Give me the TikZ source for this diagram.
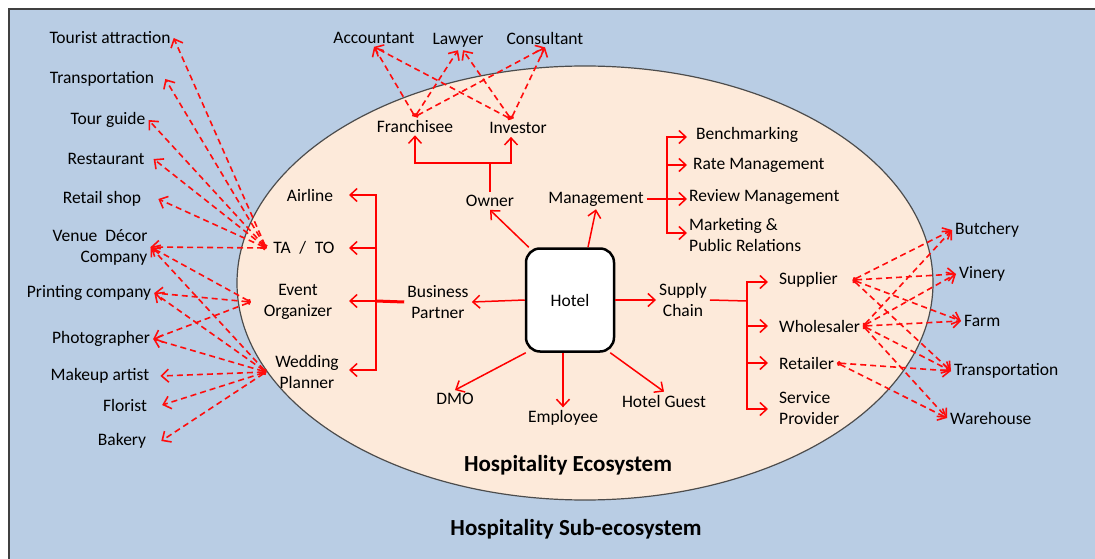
\documentclass[tikz,border=0pt]{standalone}
\usepackage{fontspec}
\setmainfont{Carlito}
\usepackage{tikz}
\usetikzlibrary{arrows.meta,calc,positioning}
\definecolor{subeco}{RGB}{185,205,228}
\definecolor{eco}{RGB}{253,234,218}
\tikzset{>={Straight Barb[length=7pt,width=13pt]},
	actor/.style={% plain text of the members of the ecosystem
		font=\fontsize{17.5}{21}\selectfont,
		inner sep=3pt,
		align=center
	},
	link/.style={->, red, line width=1.5pt},
	dashlink/.style={
		{Circle[length=4pt]}-{Straight Barb[length=7pt,width=13pt]},
		red!95!white, line width=1.6pt,
		dash pattern=on 6pt off 4pt
	}
}
\begin{document}
\begin{tikzpicture}[x=1pt,y=-1pt,
                    title/.style={font=\bfseries\fontsize{23}{26}\selectfont}]
                        \useasboundingbox (0,0) rectangle (1095,559);
                        \draw [fill=subeco, draw=black!75, line width=2pt] (9,9) rectangle (1110,570);
                        \draw [fill=eco, draw=black!70, line width=1.2pt] (585,283) ellipse [x radius=348, y radius=217];
                        % centre
                        \node [actor, draw, fill=white, line width=2.5pt, rounded corners=14pt,
                               minimum width=88pt, minimum height=103pt] (hotel) at (570,300) {Hotel};
                        \node [actor] (owner) at (490,201) {Owner};
                        \node [actor] (management) at (596,199) {Management};
                        \node [actor] (partner) at (438,302) {Business\\Partner};
                        \node [actor] (supply) at (683,300) {Supply\\Chain};
                        \node [actor] (dmo) at (455,399) {DMO};
                        \node [actor] (employee) at (563,418) {Employee};
                        \node [actor] (guest) at (664,401) {Hotel Guest};
                        % owners
                        \node [actor] (franchisee) at (415,126) {Franchisee};
                        \node [actor] (investor) at (518,128) {Investor};
                        \node [actor] (accountant) at (374,38) {Accountant};
                        \node [actor] (lawyer) at (458,40) {Lawyer};
                        \node [actor] (consultant) at (545,38) {Consultant};
                        % business partners
                        \node [actor] (airline) at (310,195) {Airline};
                        \node [actor] (tato) at (304,248) {TA\enspace/\enspace TO};
                        \node [actor] (event) at (298,302) {Event\\Organizer};
                        \node [actor] (wedding) at (307,372) {Wedding\\Planner};
                        \node [actor] (tourist) at (110,38) {Tourist attraction};
                        \node [actor] (transport) at (102,79) {Transportation};
                        \node [actor] (tourguide) at (108,120) {Tour guide};
                        \node [actor] (restaurant) at (106,159) {Restaurant};
                        \node [actor] (retail) at (102,199) {Retail shop};
                        \node [actor, align=right] (venue) at (100,247) {Venue\ \ D\'ecor\\Company};
                        \node [actor] (printing) at (89,293) {Printing company};
                        \node [actor] (photographer) at (101,339) {Photographer};
                        \node [actor] (makeup) at (100,376) {Makeup artist};
                        \node [actor] (florist) at (125,405) {Florist};
                        \node [actor] (bakery) at (122,441) {Bakery};
                        % management
                        \node [actor, anchor=west] (bench) at (693,135) {Benchmarking};
                        \node [actor, anchor=west] (rate) at (690,165) {Rate Management};
                        \node [actor, anchor=west] (review) at (686,197) {Review Management};
                        \node [actor, anchor=west, align=left] (marketing) at (686,235) {Marketing \&\\Public Relations};
                        % supply chain
                        \node [actor, anchor=west] (supplier) at (776,280) {Supplier};
                        \node [actor, anchor=west] (wholesaler) at (776,326) {Wholesaler};
                        \node [actor, anchor=west] (retailer) at (776,363) {Retailer};
                        \node [actor, anchor=west, align=left] (provider) at (776,408) {Service\\Provider};
                        \node [actor, anchor=west] (butchery) at (952,230) {Butchery};
                        \node [actor, anchor=west] (vinery) at (956,274) {Vinery};
                        \node [actor, anchor=west] (farm) at (961,321) {Farm};
                        \node [actor, anchor=west] (carrier) at (951,371) {Transportation};
                        \node [actor, anchor=west] (warehouse) at (947,418) {Warehouse};
                        % titles
                        \node [title] (ecotitle) at (568,465) {Hospitality Ecosystem};
                        \node [title] (subtitle) at (576,529) {Hospitality Sub-ecosystem};

                        % solid links from the hotel
                        \draw [link] ([xshift=4pt]hotel.north west) -- (owner.south);
                        \draw [link] ([xshift=18pt]hotel.north) -- (management.south);
                        \draw [link] (hotel.west) -- (partner.east);
                        \draw [link] (hotel.east) -- (supply.west);
                        \draw [link] ([xshift=1pt]hotel.south west) -- (dmo.north);
                        \draw [link] ([xshift=-7pt]hotel.south) -- (employee.north);
                        \draw [link] ([xshift=-5pt]hotel.south east) -- (guest.north);
                        % forks
                        \coordinate (ownfork) at (490,163);
                        \draw [link, -] (owner.north) -- (ownfork);
                        \draw [link] (ownfork) -| (franchisee.south);
                        \draw [link] (ownfork) -| ([xshift=-7pt]investor.south);
                        \coordinate (bpbus) at (376,301);
                        \coordinate (bptip) at (349,0);
                        \draw [red, line width=3pt] (partner.west) -- (bpbus);
                        \draw [link] (bpbus) |- (airline -| bptip);
                        \draw [link] (bpbus) |- (tato -| bptip);
                        \draw [link] (bpbus) -- (bptip |- bpbus);
                        \draw [link] (bpbus) |- (bptip |- 0,370);
                        \coordinate (mgbus) at (667,199);
                        \coordinate (mgtip) at (687,0);
                        \draw [link] (management.east) -- (mgtip |- management.east);
                        \draw [link] (mgbus) |- (mgtip |- 0,137);
                        \draw [link] (mgbus) |- (mgtip |- rate);
                        \draw [link] (mgbus) |- (mgtip |- 0,233);
                        \coordinate (scbus) at (747,301);
                        \coordinate (sctip) at (768,0);
                        \draw [link, -] (supply.east) -- (scbus);
                        \draw [link] (scbus) |- (sctip |- 0,282);
                        \draw [link] (scbus) |- (sctip |- wholesaler);
                        \draw [link] (scbus) |- (sctip |- retailer);
                        \draw [link] (scbus) |- (sctip |- 0,409);

                        % dashed links to the sub-ecosystem
                        \draw [dashlink] (franchisee.north) -- (accountant.south);
                        \draw [dashlink] (franchisee.north) -- (lawyer.south);
                        \draw [dashlink] (franchisee.north) -- (consultant.south);
                        \draw [dashlink] ([xshift=-7pt]investor.north) -- (accountant.south);
                        \draw [dashlink] ([xshift=-7pt]investor.north) -- ([xshift=5pt]lawyer.south);
                        \draw [dashlink] ([xshift=-7pt]investor.north) -- (consultant.south);
                        \draw [dashlink] ([xshift=-4pt]tato.west) -- (tourist.east);
                        \draw [dashlink] ([xshift=-4pt]tato.west) -- ([xshift=8pt]transport.east);
                        \draw [dashlink] ([xshift=-4pt]tato.west) -- (tourguide.east);
                        \draw [dashlink] ([xshift=-4pt]tato.west) -- ([xshift=6pt]restaurant.east);
                        \draw [dashlink] ([xshift=-4pt]tato.west) -- ([xshift=14pt]retail.east);
                        \draw [dashlink] ([xshift=-4pt]tato.west) -- (venue.east);
                        \draw [dashlink] ([xshift=-10pt]event.west) -- (venue.east);
                        \draw [dashlink] ([xshift=-10pt]event.west) -- (printing.east);
                        \draw [dashlink] ([xshift=-10pt]event.west) -- (photographer.east);
                        \draw [dashlink] ([xshift=-6pt]wedding.west) -- (venue.east);
                        \draw [dashlink] ([xshift=-6pt]wedding.west) -- (printing.east);
                        \draw [dashlink] ([xshift=-6pt]wedding.west) -- (photographer.east);
                        \draw [dashlink] ([xshift=-6pt]wedding.west) -- ([xshift=8pt]makeup.east);
                        \draw [dashlink] ([xshift=-6pt]wedding.west) -- ([xshift=12pt]florist.east);
                        \draw [dashlink] ([xshift=-6pt]wedding.west) -- ([xshift=12pt]bakery.east);
                        \draw [dashlink] ([xshift=12pt]supplier.east) -- (butchery.west);
                        \draw [dashlink] ([xshift=12pt]supplier.east) -- (vinery.west);
                        \draw [dashlink] ([xshift=12pt]supplier.east) -- (farm.west);
                        \draw [dashlink] ([xshift=12pt]supplier.east) -- (carrier.west);
                        \draw [dashlink] (wholesaler.east) -- (butchery.west);
                        \draw [dashlink] (wholesaler.east) -- (vinery.west);
                        \draw [dashlink] (wholesaler.east) -- (farm.west);
                        \draw [dashlink] (wholesaler.east) -- (carrier.west);
                        \draw [dashlink] (wholesaler.east) -- (warehouse.west);
                        \draw [dashlink] (retailer.east) -- (carrier.west);
                        \draw [dashlink] (retailer.east) -- (warehouse.west);
                \end{tikzpicture}
\end{document}
